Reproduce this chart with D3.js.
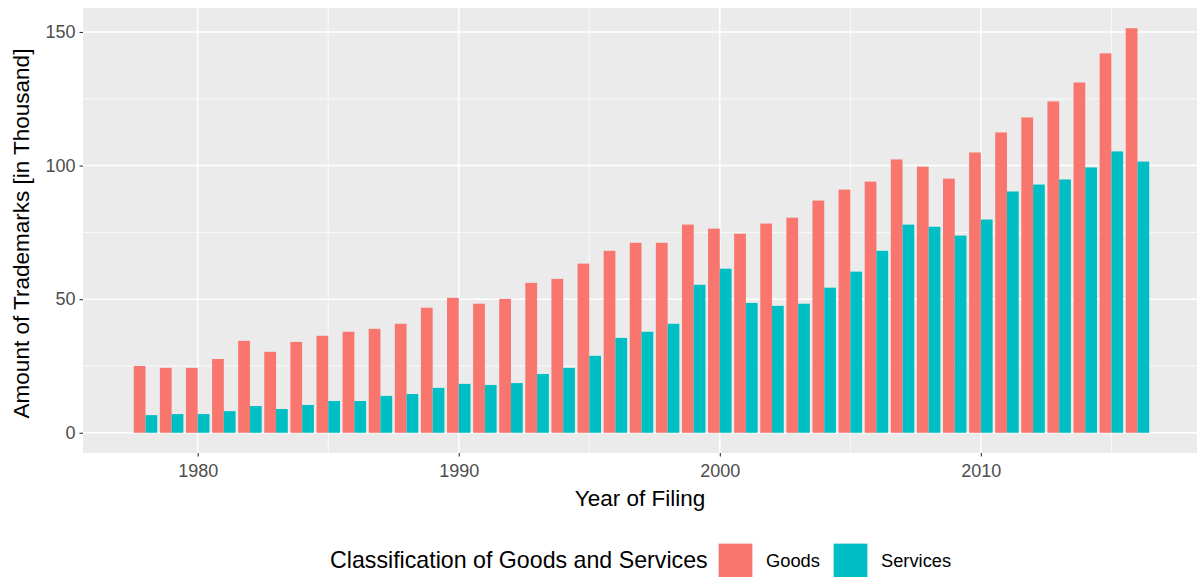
<!DOCTYPE html>
<html>
<head>
<meta charset="utf-8">
<script src="https://cdn.jsdelivr.net/npm/d3@7"></script>
<style>
  html, body { margin: 0; padding: 0; background: #fff; }
  svg { display: block; font-family: "Liberation Sans", Arial, Helvetica, sans-serif; }
</style>
</head>
<body>
<svg id="chart" width="1197" height="577"></svg>
<script>
// ---- data ----
const years = d3.range(1978, 2017);
const goods = [25.0, 24.3, 24.3, 27.6, 34.4, 30.3, 34.0, 36.3, 37.8, 38.9,
               40.8, 46.8, 50.5, 48.3, 50.1, 56.1, 57.6, 63.3, 68.1, 71.1,
               71.1, 77.9, 76.4, 74.5, 78.3, 80.5, 86.9, 91.0, 94.0, 102.3,
               99.6, 95.1, 104.9, 112.4, 118.0, 124.0, 131.1, 142.0, 151.4];
const services = [6.6, 7.0, 7.0, 8.1, 10.0, 8.9, 10.4, 11.9, 11.9, 13.8,
                  14.5, 16.8, 18.3, 17.9, 18.6, 22.0, 24.3, 28.8, 35.5, 37.8,
                  40.8, 55.4, 61.4, 48.6, 47.5, 48.3, 54.3, 60.3, 68.1, 77.9,
                  77.1, 73.8, 79.8, 90.3, 92.9, 94.8, 99.3, 105.3, 101.5];
const seriesNames = ["Goods", "Services"];
const seriesColors = ["#F8766D", "#00BFC4"];
const xTicks = [1980, 1990, 2000, 2010];
const xMinor = [1985, 1995, 2005, 2015];
const yTicks = [0, 50, 100, 150];
const yMinor = [25, 75, 125];

const rows = [];
years.forEach((y, i) => {
  rows.push({year: y, series: 0, value: goods[i]});
  rows.push({year: y, series: 1, value: services[i]});
});

// ---- layout ----
const svg = d3.select("#chart");
const panel = {left: 83, top: 8, right: 1200, bottom: 453};

const dodge = 0.9;
const xMinData = years[0] - dodge / 2, xMaxData = years[years.length - 1] + dodge / 2;
const xPad = (xMaxData - xMinData) * 0.05;
const x = d3.scaleLinear().domain([xMinData - xPad, xMaxData + xPad]).range([panel.left, panel.right]);

const yMaxData = d3.max(rows, d => d.value);
const yPad = yMaxData * 0.05;
const y = d3.scaleLinear().domain([-yPad, yMaxData + yPad]).range([panel.bottom, panel.top]);

// panel background
svg.append("rect").attr("x", panel.left).attr("y", panel.top)
  .attr("width", panel.right - panel.left).attr("height", panel.bottom - panel.top)
  .attr("fill", "#EBEBEB");

const grid = svg.append("g");
grid.selectAll("line.ymin").data(yMinor).join("line")
  .attr("x1", panel.left).attr("x2", panel.right)
  .attr("y1", d => y(d)).attr("y2", d => y(d))
  .attr("stroke", "#fff").attr("stroke-width", 0.75);
grid.selectAll("line.xmin").data(xMinor).join("line")
  .attr("y1", panel.top).attr("y2", panel.bottom)
  .attr("x1", d => x(d)).attr("x2", d => x(d))
  .attr("stroke", "#fff").attr("stroke-width", 0.75);
grid.selectAll("line.ymaj").data(yTicks).join("line")
  .attr("x1", panel.left).attr("x2", panel.right)
  .attr("y1", d => y(d)).attr("y2", d => y(d))
  .attr("stroke", "#fff").attr("stroke-width", 1.5);
grid.selectAll("line.xmaj").data(xTicks).join("line")
  .attr("y1", panel.top).attr("y2", panel.bottom)
  .attr("x1", d => x(d)).attr("x2", d => x(d))
  .attr("stroke", "#fff").attr("stroke-width", 1.5);

// bars
const barW = dodge / 2;
svg.append("g").selectAll("rect").data(rows).join("rect")
  .attr("x", d => x(d.year - dodge / 2 + d.series * barW))
  .attr("width", d => x(d.year - dodge / 2 + (d.series + 1) * barW) - x(d.year - dodge / 2 + d.series * barW))
  .attr("y", d => y(d.value))
  .attr("height", d => y(0) - y(d.value))
  .attr("fill", d => seriesColors[d.series]);

// axes
const xAxis = d3.axisBottom(x).tickValues(xTicks).tickFormat(d3.format("d")).tickSize(3.5).tickPadding(3);
const gx = svg.append("g").attr("transform", `translate(0,${panel.bottom})`).call(xAxis);
gx.select(".domain").remove();
gx.selectAll(".tick line").attr("stroke", "#333").attr("stroke-width", 1.1);
gx.selectAll(".tick text").attr("fill", "#4D4D4D").style("font-size", "18px")
  .attr("y", 24).attr("dy", null);

const yAxis = d3.axisLeft(y).tickValues(yTicks).tickSize(3.5).tickPadding(4);
const gy = svg.append("g").attr("transform", `translate(${panel.left},0)`).call(yAxis);
gy.select(".domain").remove();
gy.selectAll(".tick line").attr("stroke", "#333").attr("stroke-width", 1.1);
gy.selectAll(".tick text").attr("fill", "#4D4D4D").style("font-size", "18px");

// axis titles
svg.append("text").attr("x", (panel.left + 1197) / 2).attr("y", 506)
  .attr("text-anchor", "middle").style("font-size", "22.5px").attr("fill", "#000")
  .text("Year of Filing");
svg.append("text").attr("transform", `translate(29,${(panel.top + panel.bottom) / 2 + 3}) rotate(-90)`)
  .attr("text-anchor", "middle").style("font-size", "22.5px").attr("fill", "#000")
  .text("Amount of Trademarks [in Thousand]");

// legend
const leg = svg.append("g");
leg.append("text").attr("x", 330).attr("y", 568).style("font-size", "23.2px").attr("fill", "#000")
  .text("Classification of Goods and Services");
const keyX = [718, 833];
const labelX = [766, 881];
seriesNames.forEach((name, i) => {
  leg.append("rect").attr("x", keyX[i]).attr("y", 543).attr("width", 35).attr("height", 35)
    .attr("fill", "#F2F2F2");
  leg.append("rect").attr("x", keyX[i] + 0.7).attr("y", 543.7).attr("width", 33.6).attr("height", 33.6)
    .attr("fill", seriesColors[i]);
  leg.append("text").attr("x", labelX[i]).attr("y", 567).style("font-size", "18.3px").attr("fill", "#000")
    .text(name);
});
</script>
</body>
</html>
